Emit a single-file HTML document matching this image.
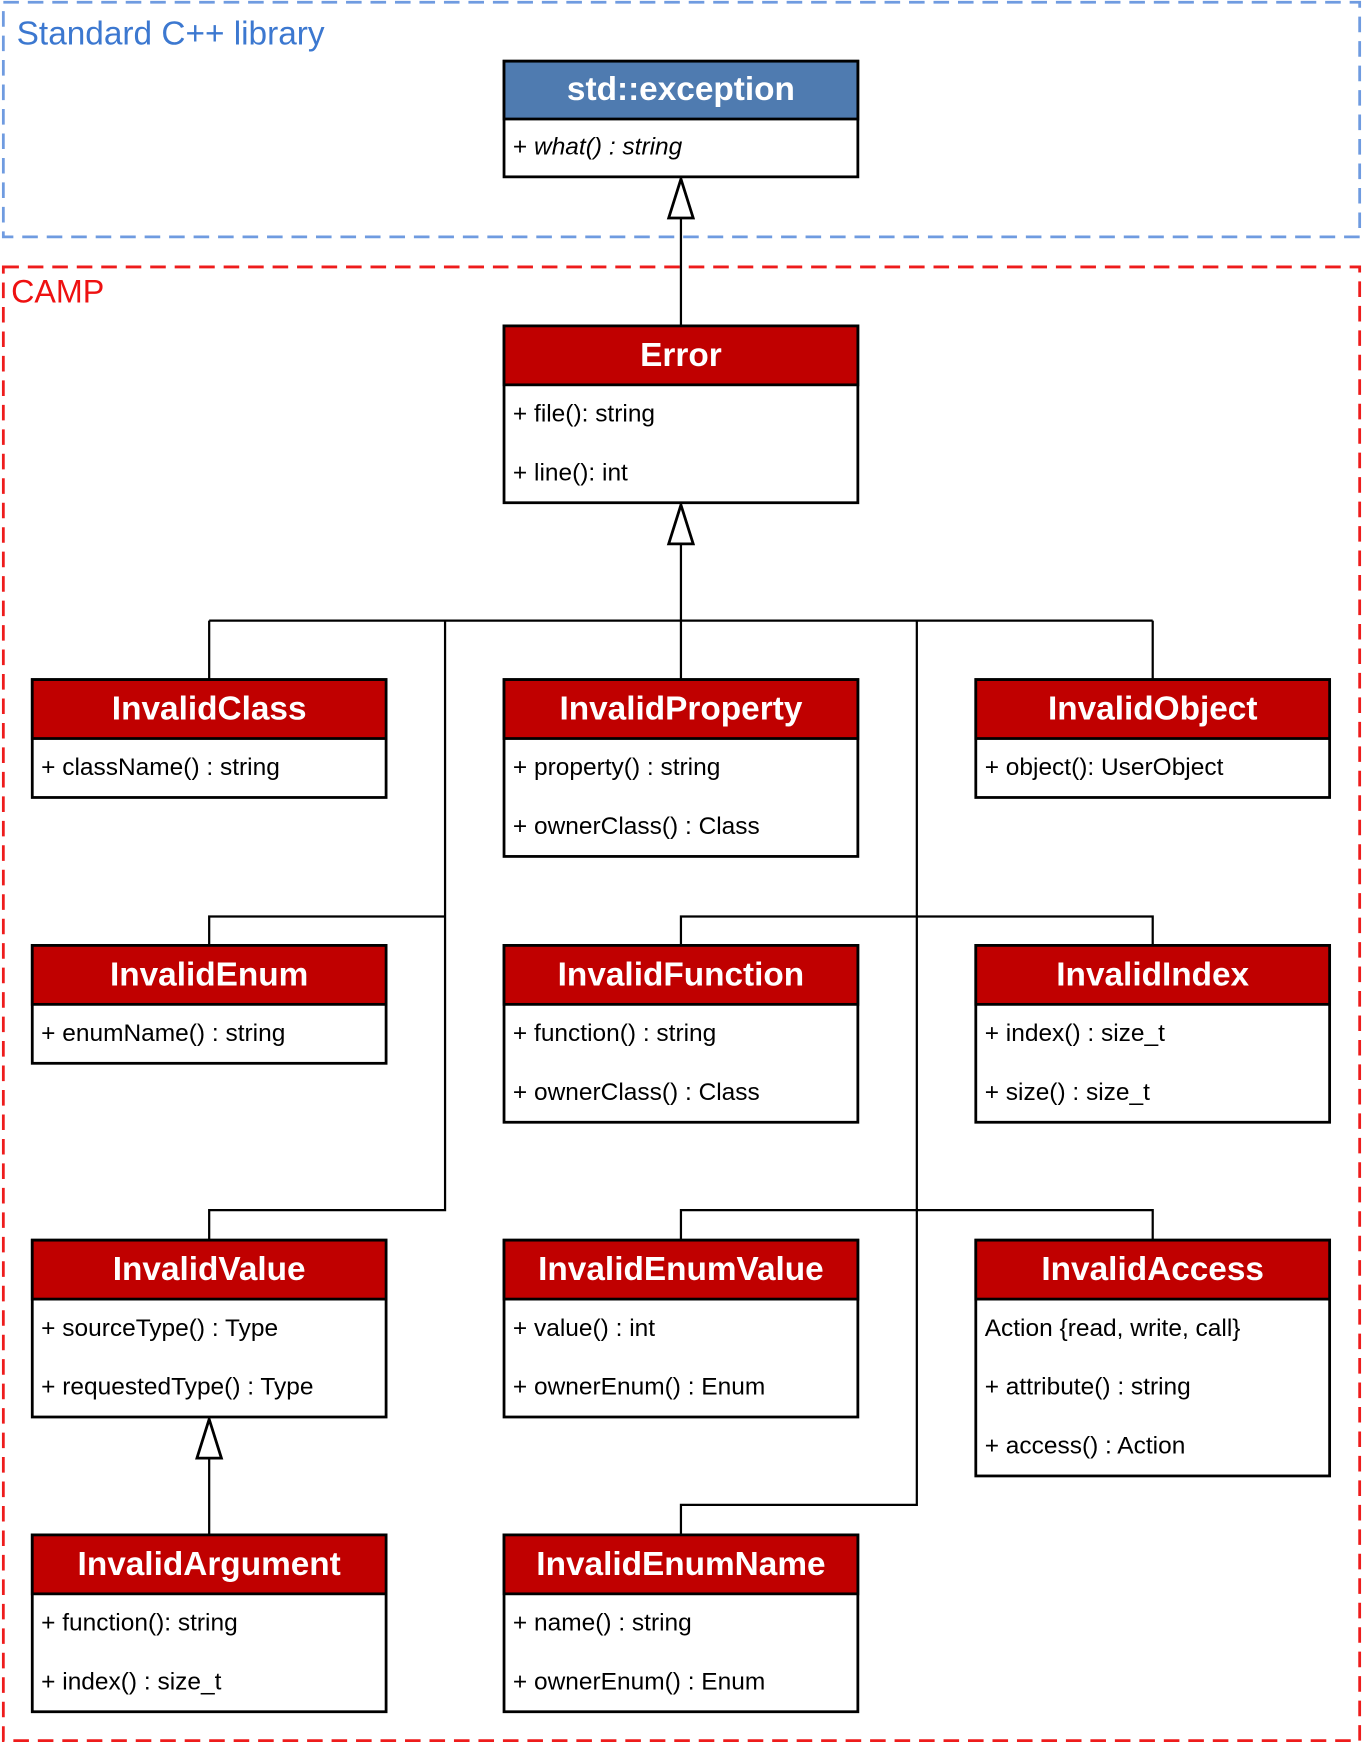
<!DOCTYPE html>
<html><head><meta charset="utf-8"><style>html,body{margin:0;padding:0;background:#fff}svg{display:block}</style></head>
<body>
<svg width="1363" height="1744" viewBox="0 0 1225 1568" preserveAspectRatio="none" xmlns="http://www.w3.org/2000/svg" font-family="Liberation Sans, Arial, sans-serif">
<rect x="3" y="2" width="1219" height="211" fill="none" stroke="#6f9be0" stroke-width="2.5" stroke-dasharray="14,8"/>
<text x="15" y="40" font-size="30" fill="#3c78d0">Standard C++ library</text>
<rect x="3" y="240" width="1219" height="1325" fill="none" stroke="#ee1c1c" stroke-width="2.5" stroke-dasharray="14,8"/>
<text x="10" y="272" font-size="29" fill="#ee1111">CAMP</text>
<g stroke="#000" stroke-width="2" fill="none">
<line x1="612" y1="196" x2="612" y2="293"/>
<line x1="612" y1="489" x2="612" y2="611"/>
<line x1="188" y1="558" x2="1036" y2="558"/>
<line x1="188" y1="558" x2="188" y2="611"/>
<line x1="1036" y1="558" x2="1036" y2="611"/>
<polyline points="400,558 400,1088 188,1088 188,1115"/>
<polyline points="400,824 188,824 188,850"/>
<polyline points="824,558 824,1353 612,1353 612,1380"/>
<polyline points="612,850 612,824 1036,824 1036,850"/>
<polyline points="612,1115 612,1088 1036,1088 1036,1115"/>
<line x1="188" y1="1311" x2="188" y2="1380"/>
</g>
<g stroke="#000" stroke-width="2.5" fill="#fff">
<polygon points="612,161 601,196 623,196"/>
<polygon points="612,454 601,489 623,489"/>
<polygon points="188,1276 177,1311 199,1311"/>
</g>
<g stroke="#000" stroke-width="2.5">
<rect x="453" y="55" width="318" height="104" fill="#fff"/><rect x="453" y="55" width="318" height="52" fill="#4f7bb0"/>
<rect x="453" y="293" width="318" height="159" fill="#fff"/><rect x="453" y="293" width="318" height="53" fill="#c00000"/>
<rect x="29" y="611" width="318" height="106" fill="#fff"/><rect x="29" y="611" width="318" height="53" fill="#c00000"/>
<rect x="453" y="611" width="318" height="159" fill="#fff"/><rect x="453" y="611" width="318" height="53" fill="#c00000"/>
<rect x="877" y="611" width="318" height="106" fill="#fff"/><rect x="877" y="611" width="318" height="53" fill="#c00000"/>
<rect x="29" y="850" width="318" height="106" fill="#fff"/><rect x="29" y="850" width="318" height="53" fill="#c00000"/>
<rect x="453" y="850" width="318" height="159" fill="#fff"/><rect x="453" y="850" width="318" height="53" fill="#c00000"/>
<rect x="877" y="850" width="318" height="159" fill="#fff"/><rect x="877" y="850" width="318" height="53" fill="#c00000"/>
<rect x="29" y="1115" width="318" height="159" fill="#fff"/><rect x="29" y="1115" width="318" height="53" fill="#c00000"/>
<rect x="453" y="1115" width="318" height="159" fill="#fff"/><rect x="453" y="1115" width="318" height="53" fill="#c00000"/>
<rect x="877" y="1115" width="318" height="212" fill="#fff"/><rect x="877" y="1115" width="318" height="53" fill="#c00000"/>
<rect x="29" y="1380" width="318" height="159" fill="#fff"/><rect x="29" y="1380" width="318" height="53" fill="#c00000"/>
<rect x="453" y="1380" width="318" height="159" fill="#fff"/><rect x="453" y="1380" width="318" height="53" fill="#c00000"/>
</g>
<g fill="#fff" font-size="30" font-weight="bold" text-anchor="middle">
<text x="612" y="90">std::exception</text>
<text x="612" y="329">Error</text>
<text x="188" y="647">InvalidClass</text>
<text x="612" y="647">InvalidProperty</text>
<text x="1036" y="647">InvalidObject</text>
<text x="188" y="886">InvalidEnum</text>
<text x="612" y="886">InvalidFunction</text>
<text x="1036" y="886">InvalidIndex</text>
<text x="188" y="1151">InvalidValue</text>
<text x="612" y="1151">InvalidEnumValue</text>
<text x="1036" y="1151">InvalidAccess</text>
<text x="188" y="1416">InvalidArgument</text>
<text x="612" y="1416">InvalidEnumName</text>
</g>
<g fill="#000" font-size="22">
<text x="461" y="139">+ <tspan font-style="italic">what() : string</tspan></text>
<text x="461" y="379">+ file(): string</text>
<text x="461" y="432">+ line(): int</text>
<text x="37" y="697">+ className() : string</text>
<text x="461" y="697">+ property() : string</text>
<text x="461" y="750">+ ownerClass() : Class</text>
<text x="885" y="697">+ object(): UserObject</text>
<text x="37" y="936">+ enumName() : string</text>
<text x="461" y="936">+ function() : string</text>
<text x="461" y="989">+ ownerClass() : Class</text>
<text x="885" y="936">+ index() : size_t</text>
<text x="885" y="989">+ size() : size_t</text>
<text x="37" y="1201">+ sourceType() : Type</text>
<text x="37" y="1254">+ requestedType() : Type</text>
<text x="461" y="1201">+ value() : int</text>
<text x="461" y="1254">+ ownerEnum() : Enum</text>
<text x="885" y="1201">Action {read, write, call}</text>
<text x="885" y="1254">+ attribute() : string</text>
<text x="885" y="1307">+ access() : Action</text>
<text x="37" y="1466">+ function(): string</text>
<text x="37" y="1519">+ index() : size_t</text>
<text x="461" y="1466">+ name() : string</text>
<text x="461" y="1519">+ ownerEnum() : Enum</text>
</g>
</svg>
</body></html>
